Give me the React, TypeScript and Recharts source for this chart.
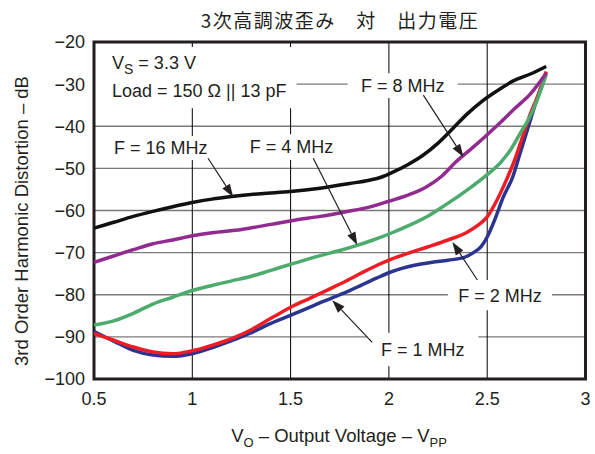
import { LineChart, Line, XAxis, YAxis, CartesianGrid, ReferenceArea, ReferenceLine } from 'recharts'

// [Vo (Vpp), HD3 (dB)]
const F16 = [
  [0.5, -64.2], [0.6, -62.8], [0.7, -61.4], [0.8, -60.2], [0.9, -59.1], [1.0, -58.1],
  [1.1, -57.3], [1.2, -56.7], [1.35, -56.0], [1.5, -55.5], [1.65, -54.7], [1.8, -53.6],
  [1.9, -52.8], [1.96, -52.1], [2.02, -50.9], [2.1, -49.0], [2.17, -47.0], [2.25, -44.0],
  [2.33, -40.3], [2.4, -37.0], [2.47, -34.2], [2.55, -31.6], [2.63, -29.3], [2.72, -27.6],
  [2.8, -25.8],
]
const F8 = [
  [0.5, -72.3], [0.6, -70.8], [0.7, -69.3], [0.8, -67.9], [0.9, -67.0], [1.0, -66.0],
  [1.1, -65.3], [1.25, -64.5], [1.4, -63.3], [1.52, -62.3], [1.65, -61.4], [1.78, -60.3],
  [1.9, -59.2], [2.0, -57.8], [2.1, -56.3], [2.19, -54.4], [2.27, -51.8], [2.34, -48.5],
  [2.42, -45.3], [2.5, -42.0], [2.57, -39.0], [2.64, -35.8], [2.72, -32.3], [2.8, -27.4],
]
const F4 = [
  [0.5, -87.2], [0.6, -86.2], [0.7, -84.4], [0.8, -82.2], [0.9, -80.6], [1.0, -79.0],
  [1.1, -77.8], [1.2, -76.7], [1.3, -75.6], [1.4, -74.2], [1.52, -72.5], [1.65, -70.7],
  [1.75, -69.5], [1.83, -68.4], [1.92, -67.0], [2.01, -65.4], [2.1, -63.6], [2.2, -61.3],
  [2.29, -58.6], [2.36, -56.4], [2.42, -54.4], [2.5, -51.5], [2.57, -48.5], [2.62, -45.5],
  [2.67, -41.5], [2.72, -37.5], [2.76, -33.0], [2.8, -27.8],
]
const F2 = [
  [0.5, -89.2], [0.6, -90.8], [0.7, -92.4], [0.8, -93.6], [0.9, -94.0], [1.0, -93.3],
  [1.1, -92.0], [1.2, -90.4], [1.3, -88.3], [1.4, -85.6], [1.52, -82.5], [1.6, -80.8],
  [1.7, -78.6], [1.78, -76.8], [1.87, -74.6], [1.94, -73.0], [2.01, -71.6], [2.1, -70.1],
  [2.2, -68.6], [2.3, -67.0], [2.4, -65.1], [2.45, -63.6], [2.5, -61.5], [2.55, -57.5],
  [2.6, -52.5], [2.64, -48.0], [2.68, -42.5], [2.72, -37.0], [2.76, -32.5], [2.8, -27.0],
]
const F1 = [
  [0.5, -88.7], [0.6, -91.0], [0.7, -93.2], [0.8, -94.3], [0.9, -94.6], [1.0, -94.0],
  [1.1, -92.6], [1.2, -90.9], [1.3, -89.0], [1.4, -86.8], [1.52, -84.5], [1.62, -82.5],
  [1.73, -80.4], [1.8, -79.0], [1.86, -77.7], [1.94, -76.0], [2.01, -74.6], [2.13, -73.0],
  [2.22, -72.3], [2.3, -71.8], [2.38, -71.2], [2.43, -70.0], [2.47, -68.5], [2.5, -66.3],
  [2.54, -62.0], [2.58, -57.0], [2.63, -52.0], [2.67, -46.0], [2.71, -40.0], [2.75, -34.0],
  [2.8, -27.3],
]

const X_TICKS = [0.5, 1, 1.5, 2, 2.5, 3]
const Y_TICKS = [-100, -90, -80, -70, -60, -50, -40, -30, -20]

const SERIES = [
  { name: 'F = 1 MHz', data: F1, color: '#2b3590' },
  { name: 'F = 2 MHz', data: F2, color: '#ee1c24' },
  { name: 'F = 4 MHz', data: F4, color: '#4dab6d' },
  { name: 'F = 8 MHz', data: F8, color: '#922b8f' },
  { name: 'F = 16 MHz', data: F16, color: '#111111' },
]

// label boxes (white, they break the grid) and arrows, in data units
const NOTES = [
  { text: 'F = 8 MHz', x1: 1.79, x2: 2.35, y1: -33.3, y2: -27.4 },
  { text: 'F = 16 MHz', x1: 0.58, x2: 1.1, y1: -48.0, y2: -42.3 },
  { text: 'F = 4 MHz', x1: 1.27, x2: 1.74, y1: -48.0, y2: -41.9 },
  { text: 'F = 2 MHz', x1: 2.3, x2: 2.83, y1: -83.7, y2: -76.5 },
  { text: 'F = 1 MHz', x1: 1.89, x2: 2.455, y1: -97.0, y2: -89.0 },
]
const ARROWS = [
  [[1.08, -47.6], [1.208, -56.8]],
  [[1.615, -47.6], [1.839, -68.2]],
  [[2.175, -32.6], [2.379, -47.3]],
  [[2.45, -76.5], [2.323, -67.5]],
  [[1.915, -91.3], [1.712, -81.3]],
]

const INK = '#231f20'
const SANS = '"Liberation Sans", Arial, Helvetica, sans-serif'
const FS = 18

const Arrow = (p: any) => {
  const { x1, y1, x2, y2 } = p
  const a = Math.atan2(y2 - y1, x2 - x1)
  const L = 13
  const W = 4.5
  const bx = x2 - L * Math.cos(a)
  const by = y2 - L * Math.sin(a)
  const s = Math.sin(a)
  const c = Math.cos(a)
  const head = `${x2},${y2} ${bx + W * s},${by - W * c} ${bx - W * s},${by + W * c}`
  return (
    <g>
      <line x1={x1} y1={y1} x2={bx} y2={by} stroke={INK} strokeWidth={1.2} />
      <polygon points={head} fill={INK} />
    </g>
  )
}

const Conditions = (props: any) => {
  const { x, y } = props.viewBox
  return (
    <text fill={INK} fontSize={FS} fontFamily={SANS}>
      <tspan x={x + 18} y={y + 22}>V</tspan>
      <tspan fontSize={14} dy={5}>S</tspan>
      <tspan dy={-5}> = 3.3 V</tspan>
      <tspan x={x + 18} y={y + 50}>Load = 150 Ω || 13 pF</tspan>
    </text>
  )
}

export default function App() {
  return (
    <div style={{ position: 'absolute', left: 0, top: 0, width: 595, height: 454, background: '#fff', fontFamily: SANS, color: INK }}>
      <div style={{ position: 'absolute', left: 340, top: 19, transform: 'translate(-50%, -50%)', whiteSpace: 'nowrap', fontSize: 19, letterSpacing: 1.5, fontFamily: '"Noto Sans CJK JP", sans-serif' }}>
        3次高調波歪み　対　出力電圧
      </div>
      <div style={{ position: 'absolute', left: 22, top: 221, transform: 'translate(-50%, -50%) rotate(-90deg)', whiteSpace: 'nowrap', fontSize: 18.5 }}>
        3rd Order Harmonic Distortion – dB
      </div>
      <div style={{ position: 'absolute', left: 339, top: 436, transform: 'translate(-50%, -50%)', whiteSpace: 'nowrap', fontSize: 18.5 }}>
        V<span style={{ fontSize: 13, position: 'relative', top: 5 }}>O</span> – Output Voltage – V
        <span style={{ fontSize: 13, position: 'relative', top: 5 }}>PP</span>
      </div>
      <LineChart width={595} height={454} margin={{ top: 42, right: 9.5, bottom: 45, left: 34 }}>
        <CartesianGrid vertical={false} stroke="#7a7a7a" strokeWidth={1.3} />
        <CartesianGrid horizontal={false} stroke="#000" strokeWidth={1} />
        <XAxis
          type="number"
          dataKey="x"
          domain={[0.5, 3]}
          ticks={X_TICKS}
          axisLine={false}
          tickLine={false}
          tickMargin={7}
          height={30}
          tick={{ fontSize: FS, fill: INK, fontFamily: SANS }}
        />
        <YAxis
          type="number"
          dataKey="y"
          domain={[-100, -20]}
          ticks={Y_TICKS}
          axisLine={false}
          tickLine={false}
          tickMargin={3}
          width={60}
          tickFormatter={(v: number) => `−${Math.abs(v)}`}
          tick={{ fontSize: FS, fill: INK, fontFamily: SANS }}
        />
        <ReferenceArea x1={0.5} x2={1.53} y1={-35.7} y2={-21.2} fill="#fff" fillOpacity={1} stroke="none" label={Conditions} />
        {NOTES.map(n => (
          <ReferenceArea
            key={n.text}
            x1={n.x1}
            x2={n.x2}
            y1={n.y1}
            y2={n.y2}
            fill="#fff"
            fillOpacity={1}
            stroke="none"
            label={{ value: n.text, position: 'center', fill: INK, fontSize: FS, fontFamily: SANS }}
          />
        ))}
        {SERIES.map(s => (
          <Line
            key={s.name}
            data={s.data.map(([x, y]) => ({ x, y }))}
            dataKey="y"
            type="monotone"
            stroke={s.color}
            strokeWidth={3.5}
            dot={false}
            activeDot={false}
            isAnimationActive={false}
          />
        ))}
        {ARROWS.map((a, i) => (
          <ReferenceLine
            key={i}
            segment={[{ x: a[0][0], y: a[0][1] }, { x: a[1][0], y: a[1][1] }]}
            shape={Arrow}
            ifOverflow="visible"
          />
        ))}
        <ReferenceArea x1={0.5} x2={3} y1={-100} y2={-20} fill="none" stroke={INK} strokeWidth={3} ifOverflow="visible" />
      </LineChart>
    </div>
  )
}
